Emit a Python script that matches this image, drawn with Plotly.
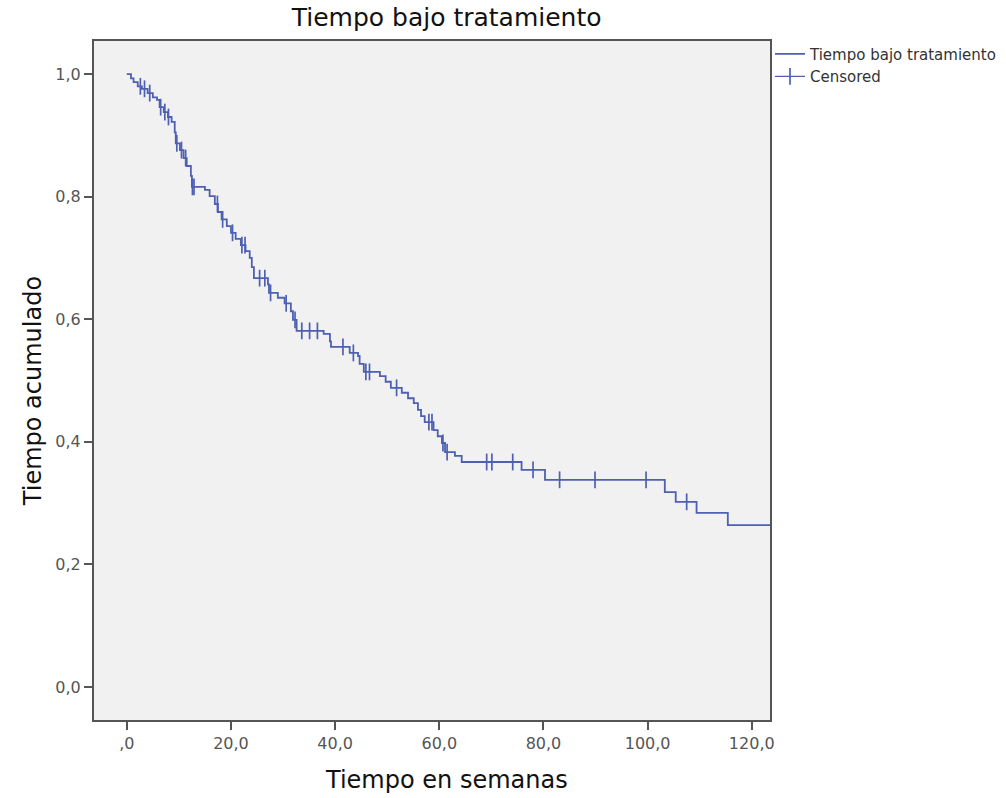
import numpy as np
import plotly.graph_objects as go

# Kaplan-Meier step curve: event times (weeks) and survival after each step
event_times = [0.0, 0.8, 1.3, 2.1, 2.9, 4.0, 5.0, 5.8, 6.3, 7.1, 7.9, 8.6, 9.2, 9.4, 10.2,
               10.9, 11.5, 12.3, 12.5, 15.0, 15.9, 16.9, 17.5, 18.2, 19.2, 20.0, 20.9,
               21.9, 22.8, 23.6, 24.0, 24.4, 27.1, 27.3, 29.0, 30.3, 31.5, 31.9, 32.6,
               37.8, 39.0, 39.2, 42.8, 44.4, 44.7, 45.5, 48.6, 49.7, 50.7, 52.8, 54.0,
               55.1, 55.9, 56.5, 57.2, 58.9, 59.7, 60.5, 61.1, 63.0, 64.3, 75.8, 80.3,
               103.3, 105.4, 109.4, 115.4]
survival = [1.000, 0.993, 0.987, 0.980, 0.976, 0.969, 0.962, 0.958, 0.946, 0.938, 0.930,
            0.922, 0.905, 0.887, 0.876, 0.863, 0.850, 0.834, 0.816, 0.811, 0.801, 0.788,
            0.775, 0.763, 0.752, 0.741, 0.731, 0.721, 0.711, 0.700, 0.685, 0.667, 0.657,
            0.643, 0.635, 0.626, 0.613, 0.599, 0.581, 0.576, 0.564, 0.555, 0.545, 0.540,
            0.527, 0.514, 0.507, 0.498, 0.488, 0.480, 0.471, 0.463, 0.452, 0.442, 0.432,
            0.419, 0.409, 0.398, 0.383, 0.377, 0.367, 0.354, 0.338, 0.318, 0.302, 0.284,
            0.264]
end_time = 126.0

censor_times = [2.6, 3.4, 4.4, 6.5, 7.3, 8.0, 9.6, 10.5, 11.3, 12.6, 12.9, 17.4, 18.4,
                20.3, 22.1, 22.7, 25.5, 26.5, 27.6, 30.6, 32.3, 33.6, 35.1, 36.6, 41.5,
                43.5, 45.9, 46.6, 51.8, 58.0, 58.6, 60.7, 61.5, 69.1, 70.1, 74.1, 78.0,
                83.1, 89.9, 99.7, 107.5]

x_tickvals = [0, 20, 40, 60, 80, 100, 120]
x_ticktext = [",0", "20,0", "40,0", "60,0", "80,0", "100,0", "120,0"]
y_tickvals = [0.0, 0.2, 0.4, 0.6, 0.8, 1.0]
y_ticktext = ["0,0", "0,2", "0,4", "0,6", "0,8", "1,0"]

line_color = "#4d60b2"
axis_color = "#555555"
tick_font = "DejaVu Sans, Liberation Sans, sans-serif"
title_font = "DejaVu Sans, Liberation Sans, sans-serif"

# step path
xs = list(event_times) + [end_time]
ys = list(survival) + [survival[-1]]

et = np.array(event_times)
sv = np.array(survival)
idx = np.searchsorted(et, np.array(censor_times), side="right") - 1
censor_s = sv[idx]

censor_marker = dict(symbol="line-ns-open", size=12, color=line_color,
                     line=dict(color=line_color, width=1.7))

fig = go.Figure()
fig.add_trace(go.Scatter(
    x=xs, y=ys, mode="lines", line=dict(shape="hv", color=line_color, width=1.8),
    name="Tiempo bajo tratamiento", showlegend=True))
fig.add_trace(go.Scatter(
    x=censor_times, y=censor_s, mode="markers", marker=censor_marker,
    name="Censored", showlegend=False))
fig.add_trace(go.Scatter(
    x=[None], y=[None], mode="lines+markers", line=dict(color=line_color, width=1.4),
    marker=censor_marker, name="Censored", showlegend=True))

fig.update_layout(
    width=1006, height=798,
    margin=dict(l=94, r=236, t=41, b=78, autoexpand=False),
    paper_bgcolor="white",
    plot_bgcolor="#f1f1f1",
    font=dict(family=tick_font, color="#222"),
    title=dict(text="Tiempo bajo tratamiento", x=0.444, xanchor="center",
               y=0.978, yanchor="middle",
               font=dict(size=25, color="#111", family=title_font)),
    legend=dict(x=1.0, y=1.005, xanchor="left", yanchor="top",
                bgcolor="rgba(0,0,0,0)", font=dict(size=15, color="#333"),
                tracegroupgap=0, itemwidth=30),
    showlegend=True,
    annotations=[
        dict(text="Tiempo en semanas", xref="paper", yref="paper", x=0.522, y=-0.088,
             xanchor="center", yanchor="middle", showarrow=False,
             font=dict(size=24, color="#111", family=title_font)),
        dict(text="Tiempo acumulado", xref="paper", yref="paper", x=-0.09, y=0.4845,
             xanchor="center", yanchor="middle", showarrow=False, textangle=-90,
             font=dict(size=24, color="#111", family=title_font)),
    ],
)
fig.update_xaxes(
    range=[-6.3, 123.5], tickvals=x_tickvals, ticktext=x_ticktext, automargin=False,
    showgrid=False, zeroline=False, showline=True, linecolor=axis_color, linewidth=2,
    mirror=True, ticks="outside", ticklen=8, tickwidth=2, tickcolor=axis_color,
    tickfont=dict(size=16, color="#555"),
)
fig.update_yaxes(
    range=[-0.054, 1.054], tickvals=y_tickvals, ticktext=y_ticktext, automargin=False,
    showgrid=False, zeroline=False, showline=True, linecolor=axis_color, linewidth=2,
    mirror=True, ticks="outside", ticklen=8, tickwidth=2, tickcolor=axis_color,
    tickfont=dict(size=16, color="#555"),
)

fig.write_html("out.html")
